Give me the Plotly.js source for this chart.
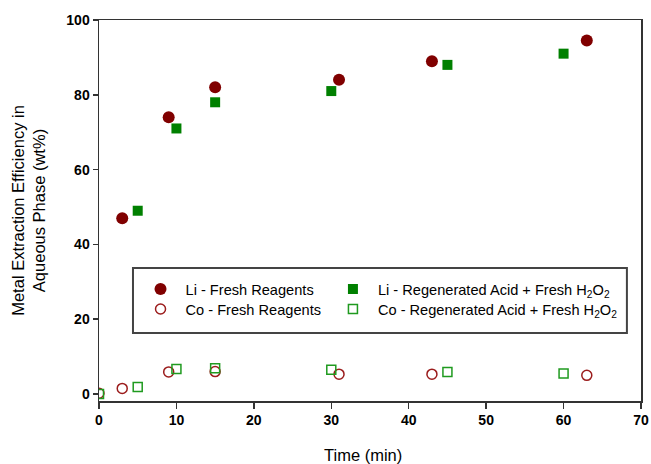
<!DOCTYPE html>
<html><head><meta charset="utf-8">
<script src="https://cdn.plot.ly/plotly-3.0.1.min.js"></script>
<style>body{margin:0;padding:0;background:#fff}#chart{width:651px;height:464px}</style>
</head><body><div id="chart"></div>
<script>
const liFreshTime = [3, 9, 15, 31, 43, 63];
const liFreshVal  = [47, 74, 82, 84, 89, 94.5];
const liRegenTime = [5, 10, 15, 30, 45, 60];
const liRegenVal  = [49, 71, 78, 81, 88, 91];
const coFreshTime = [0, 3, 9, 15, 31, 43, 63];
const coFreshVal  = [0.2, 1.5, 5.9, 6, 5.3, 5.3, 5];
const coRegenTime = [0, 5, 10, 15, 30, 45, 60];
const coRegenVal  = [0, 1.9, 6.7, 6.9, 6.5, 5.9, 5.5];
const seriesNames = ['Li - Fresh Reagents', 'Li - Regenerated Acid + Fresh H<sub>2</sub>O<sub>2</sub>',
                     'Co - Fresh Reagents', 'Co - Regenerated Acid + Fresh H<sub>2</sub>O<sub>2</sub>'];
const xTicks = [0, 10, 20, 30, 40, 50, 60, 70];
const yTicks = [0, 20, 40, 60, 80, 100];

const red = '#800000', green = '#008000';
const traces = [
  {x: liFreshTime, y: liFreshVal, name: seriesNames[0], mode: 'markers', type: 'scatter', legend: 'legend',
   marker: {symbol: 'circle', size: 12, color: red, line: {width: 0}}},
  {x: liRegenTime, y: liRegenVal, name: seriesNames[1], mode: 'markers', type: 'scatter', legend: 'legend2',
   marker: {symbol: 'square', size: 10, color: green, line: {width: 0}}},
  {x: coFreshTime, y: coFreshVal, name: seriesNames[2], mode: 'markers', type: 'scatter', legend: 'legend3',
   marker: {symbol: 'circle-open', size: 10, color: '#9b1c1c', line: {width: 1.5, color: '#9b1c1c'}}},
  {x: coRegenTime, y: coRegenVal, name: seriesNames[3], mode: 'markers', type: 'scatter', legend: 'legend4',
   marker: {symbol: 'square-open', size: 9, color: '#1f9a1f', line: {width: 1.5, color: '#1f9a1f'}}}
];

function leg(x, y) {
  return {orientation: 'v', x: x, y: y, xanchor: 'left', yanchor: 'middle', itemwidth: 40,
          bgcolor: 'rgba(0,0,0,0)', borderwidth: 0, font: {size: 14.6, color: '#000'}, itemclick: false};
}
const col1 = 0.0674, col2 = 0.4224, row1 = 0.294, row2 = 0.2415;

const layout = {
  width: 651, height: 464,
  margin: {l: 99, r: 10, t: 20, b: 63},
  paper_bgcolor: '#fff', plot_bgcolor: '#fff',
  font: {family: 'Liberation Sans, Arial, sans-serif', color: '#000'},
  showlegend: true,
  legend: leg(col1, row1), legend2: leg(col2, row1), legend3: leg(col1, row2), legend4: leg(col2, row2),
  xaxis: {range: [0, 70], tickvals: xTicks, ticks: 'outside', ticklen: 6, tickwidth: 1.5, tickcolor: '#333',
          showline: true, linecolor: '#333', linewidth: 1.5, mirror: true, showgrid: false, zeroline: false,
          tickfont: {size: 14, family: 'Liberation Sans, Arial, sans-serif', weight: 'bold', color: '#000'}},
  yaxis: {range: [-1.87, 100], tickvals: yTicks, ticks: 'outside', ticklen: 5, tickwidth: 1.5, tickcolor: '#333',
          showline: true, linecolor: '#333', linewidth: 1.5, mirror: true, showgrid: false, zeroline: false,
          tickfont: {size: 14, family: 'Liberation Sans, Arial, sans-serif', weight: 'bold', color: '#000'},
          title: {text: 'Metal Extraction Efficiency in<br>Aqueous Phase (wt%)', font: {size: 16.5}, standoff: 16}},
  annotations: [{text: 'Time (min)', xref: 'paper', yref: 'paper', x: 0.487, y: -0.142, xanchor: 'center', yanchor: 'middle',
                 showarrow: false, font: {size: 16.5, color: '#000'}}],
  shapes: [{type: 'rect', xref: 'paper', yref: 'paper', x0: 0.0627, x1: 0.974, y0: 0.1785, y1: 0.349,
            line: {color: '#444', width: 2}, fillcolor: 'rgba(0,0,0,0)', layer: 'above'}]
};
Plotly.newPlot('chart', traces, layout, {displayModeBar: false, staticPlot: true});
</script></body></html>
